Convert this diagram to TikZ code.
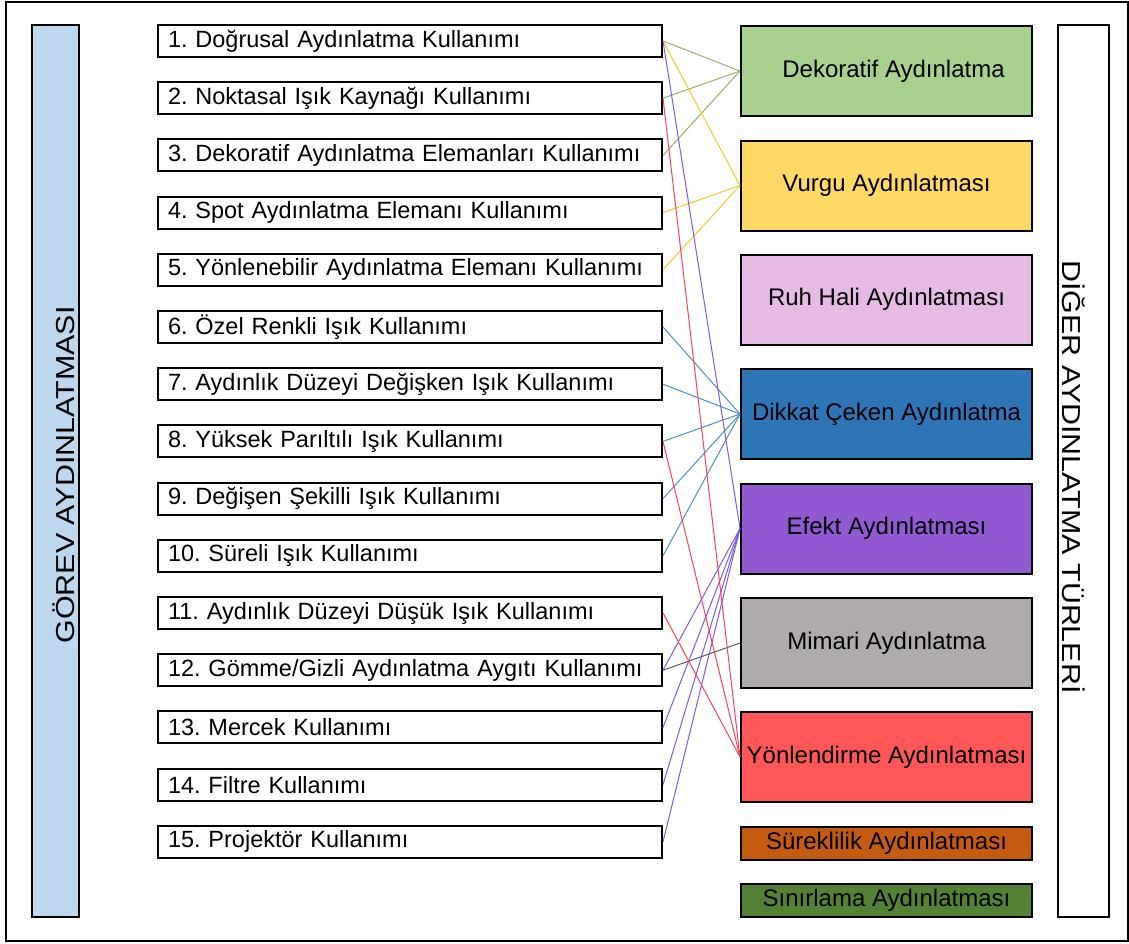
\documentclass[tikz,border=0pt]{standalone}
\usepackage{fontspec}
\setmainfont{Liberation Sans}
\frenchspacing
\definecolor{barblue}{HTML}{BDD7EE}
\definecolor{cDek}{HTML}{A9D18E}
\definecolor{cVur}{HTML}{FFD966}
\definecolor{cRuh}{HTML}{E5BBE5}
\definecolor{cDik}{HTML}{2E75B6}
\definecolor{cEfe}{HTML}{915AD2}
\definecolor{cMim}{HTML}{AFABAB}
\definecolor{cYon}{HTML}{FF5757}
\definecolor{cSur}{HTML}{C55A11}
\definecolor{cSin}{HTML}{548235}
\definecolor{lGreen}{HTML}{8DB86A}
\definecolor{lYellow}{HTML}{F5C928}
\definecolor{lPurple}{HTML}{7E5AE0}
\definecolor{lRed}{HTML}{FF4055}
\definecolor{lBlue}{HTML}{4A8FC8}
\definecolor{lGrey}{HTML}{595959}
\tikzset{
  lbox/.style={draw=black, line width=2pt, fill=white, anchor=west,
    minimum height=32pt, text width=484pt, inner xsep=10pt, inner ysep=0pt, align=left,
    font=\fontsize{23.5}{26}\selectfont\frenchspacing},
  rbox/.style={draw=black, line width=2pt, anchor=north west,
    minimum width=291pt, minimum height=90pt, inner sep=0pt,
    font=\fontsize{24}{27}\selectfont},
  sbox/.style={rbox, minimum height=33pt},
  conn/.style={line width=1pt}
}
\begin{document}
\begin{tikzpicture}[x=1pt,y=-1pt]
\useasboundingbox (0,0) rectangle (1129,943);
\draw[line width=2pt] (6,1.5) rectangle (1128,940.5);
% side bars
\node[draw=black, line width=2pt, fill=barblue, anchor=north west, minimum width=47pt, minimum height=892pt, inner sep=0pt] (gbar) at (31,24) {};
\node[rotate=90, font=\fontsize{26}{30}\selectfont, inner sep=0pt] (gtxt) at (64,475) {\scalebox{1.17}[1]{GÖREV AYDINLATMASI}};
\node[draw=black, line width=2pt, fill=white, anchor=north west, minimum width=51pt, minimum height=892pt, inner sep=0pt] (dbar) at (1057,24) {};
\node[rotate=-90, font=\fontsize{26}{30}\selectfont, inner sep=0pt] (dtxt) at (1074,477) {\scalebox{1.17}[1]{DİĞER AYDINLATMA TÜRLERİ}};
% left boxes
\node[lbox] (l1) at (157,41.0) {1. Doğrusal Aydınlatma Kullanımı};
\node[lbox] (l2) at (157,98.2) {2. Noktasal Işık Kaynağı Kullanımı};
\node[lbox] (l3) at (157,155.4) {3. Dekoratif Aydınlatma Elemanları Kullanımı};
\node[lbox] (l4) at (157,212.6) {4. Spot Aydınlatma Elemanı Kullanımı};
\node[lbox] (l5) at (157,269.8) {5. Yönlenebilir Aydınlatma Elemanı Kullanımı};
\node[lbox] (l6) at (157,327.0) {6. Özel Renkli Işık Kullanımı};
\node[lbox] (l7) at (157,384.2) {7. Aydınlık Düzeyi Değişken Işık Kullanımı};
\node[lbox] (l8) at (157,441.4) {8. Yüksek Parıltılı Işık Kullanımı};
\node[lbox] (l9) at (157,498.6) {9. Değişen Şekilli Işık Kullanımı};
\node[lbox] (l10) at (157,555.8) {10. Süreli Işık Kullanımı};
\node[lbox] (l11) at (157,613.0) {11. Aydınlık Düzeyi Düşük Işık Kullanımı};
\node[lbox] (l12) at (157,670.2) {12. Gömme/Gizli Aydınlatma Aygıtı Kullanımı};
\node[lbox] (l13) at (157,727.4) {13. Mercek Kullanımı};
\node[lbox] (l14) at (157,784.6) {14. Filtre Kullanımı};
\node[lbox] (l15) at (157,841.8) {15. Projektör Kullanımı};
% right boxes
\node[rbox, fill=cDek] (rdek) at (740,25) {\hspace*{14pt}Dekoratif Aydınlatma};
\node[rbox, fill=cVur] (rvur) at (740,139.5) {Vurgu Aydınlatması};
\node[rbox, fill=cRuh] (rruh) at (740,253.5) {Ruh Hali Aydınlatması};
\node[rbox, fill=cDik] (rdik) at (740,368) {Dikkat Çeken Aydınlatma};
\node[rbox, fill=cEfe] (refe) at (740,482.5) {Efekt Aydınlatması};
\node[rbox, fill=cMim] (rmim) at (740,597) {Mimari Aydınlatma};
\node[rbox, fill=cYon] (ryon) at (740,711) {Yönlendirme Aydınlatması};
\node[sbox, fill=cSur] (rsur) at (740,826) {Süreklilik Aydınlatması};
\node[sbox, fill=cSin] (rsin) at (740,883) {Sınırlama Aydınlatması};
% connectors
\draw[conn, lGreen] (l1.east) -- (rdek.west);
\draw[conn, lGreen] (l2.east) -- (rdek.west);
\draw[conn, lGreen] (l3.east) -- (rdek.west);
\draw[conn, lYellow] (l1.east) -- (rvur.west);
\draw[conn, lYellow] (l4.east) -- (rvur.west);
\draw[conn, lYellow] (l5.east) -- (rvur.west);
\draw[conn, lBlue] (l6.east) -- (rdik.west);
\draw[conn, lBlue] (l7.east) -- (rdik.west);
\draw[conn, lBlue] (l8.east) -- (rdik.west);
\draw[conn, lBlue] (l9.east) -- (rdik.west);
\draw[conn, lBlue] (l10.east) -- (rdik.west);
\draw[conn, lPurple] (l1.east) -- (refe.west);
\draw[conn, lPurple] (l12.east) -- (refe.west);
\draw[conn, lPurple] (l13.east) -- (refe.west);
\draw[conn, lPurple] (l14.east) -- (refe.west);
\draw[conn, lPurple] (l15.east) -- (refe.west);
\draw[conn, lGrey] (l12.east) -- (rmim.west);
\draw[conn, lRed] (l2.east) -- (ryon.west);
\draw[conn, lRed] (l8.east) -- (ryon.west);
\draw[conn, lRed] (l11.east) -- (ryon.west);
\end{tikzpicture}
\end{document}
